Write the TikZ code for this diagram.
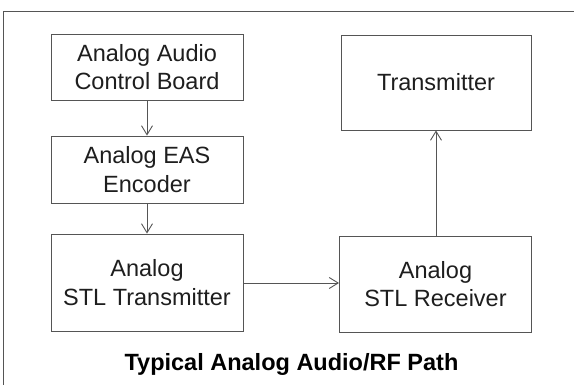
\documentclass[tikz,border=0pt]{standalone}
\usepackage{fontspec}
\setmainfont{Liberation Sans}
\usetikzlibrary{arrows.meta}
\definecolor{ln}{HTML}{555555}
\definecolor{tx}{HTML}{1E1E1E}
\begin{document}
\begin{tikzpicture}[x=1pt,y=-1pt,
  blk/.style={draw=ln, line width=0.9pt, text=tx, align=center, inner sep=0pt,
    font=\fontsize{23.5}{28.5}\selectfont},
  conn/.style={draw=ln, line width=0.9pt, -{Straight Barb[length=9pt,width=11pt,line width=0.9pt]}}]
\useasboundingbox (0,0) rectangle (574,384);
\fill[white] (0,0) rectangle (574,384);
\draw[ln, line width=0.9pt] (3,390) -- (3,11.5) -- (580,11.5);
\node[blk, minimum width=192pt, minimum height=66pt] (acb) at (147,67) {Analog Audio\\Control Board};
\node[blk, minimum width=192pt, minimum height=67pt] (eas) at (147,169.5) {Analog EAS\\Encoder};
\node[blk, minimum width=192pt, minimum height=97pt] (stlt) at (147,282.5) {Analog\\STL Transmitter};
\node[blk, minimum width=192pt, minimum height=96pt] (stlr) at (435.5,284) {Analog\\STL Receiver};
\node[blk, minimum width=190pt, minimum height=95pt] (tx) at (436,82.5) {Transmitter};
\draw[conn] (acb) -- (eas);
\draw[conn] (eas) -- (stlt);
\draw[conn] (stlt.east |- 0,283) -- (stlr.west |- 0,283);
\draw[conn] (stlr.north -| 436,0) -- (tx.south -| 436,0);
\node[text=black, anchor=base, font=\fontsize{23.5}{28}\selectfont\bfseries] (title) at (291.5,370) {Typical Analog Audio/RF Path};
\end{tikzpicture}
\end{document}
